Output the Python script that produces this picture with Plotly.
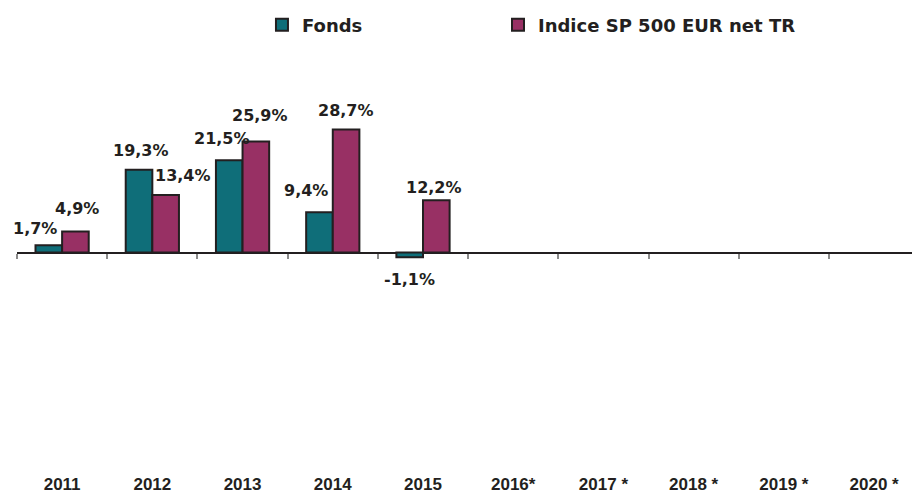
import plotly.graph_objects as go

categories = ["2011", "2012", "2013", "2014", "2015", "2016*", "2017 *", "2018 *", "2019 *", "2020 *"]
fonds = [1.7, 19.3, 21.5, 9.4, -1.1, None, None, None, None, None]
indice = [4.9, 13.4, 25.9, 28.7, 12.2, None, None, None, None, None]
series_names = ["Fonds", "Indice SP 500 EUR net TR"]

# label offsets in pixels (style only)
fonds_xshift = [-27, -11, -21, -27, -14]
fonds_yshift = [17, 19, 22, 22, -22]
indice_xshift = [15, 31, 17, 13, 11]
indice_yshift = [23, 20, 26, 19, 13]

TEAL = "#0F6E79"
PURPLE = "#983064"
EDGE = "#231F20"
FONT = "DejaVu Sans, Verdana, sans-serif"
TICKFONT = "Liberation Sans, Arial, sans-serif"

YMIN, YMAX = -50, 40

fig = go.Figure()
fig.add_trace(go.Bar(x=categories, y=fonds, name=series_names[0], legend="legend",
                     marker=dict(color=TEAL, line=dict(color=EDGE, width=2))))
fig.add_trace(go.Bar(x=categories, y=indice, name=series_names[1], legend="legend2",
                     marker=dict(color=PURPLE, line=dict(color=EDGE, width=2))))
# invisible helper trace for the tick axis at zero
fig.add_trace(go.Scatter(x=categories, y=[None] * len(categories), xaxis="x2",
                         showlegend=False, hoverinfo="skip", mode="lines"))

def fmt(v):
    return f"{v:.1f}".replace(".", ",") + "%"

annotations = []
for vals, xs, ys in [(fonds, fonds_xshift, fonds_yshift), (indice, indice_xshift, indice_yshift)]:
    k = 0
    for i, v in enumerate(vals):
        if v is None:
            continue
        annotations.append(dict(x=i, y=v, xref="x", yref="y", text="<b>" + fmt(v) + "</b>",
                                showarrow=False, xshift=xs[k], yshift=ys[k],
                                xanchor="center", yanchor="middle",
                                font=dict(family=FONT, size=16, color="#231F20")))
        k += 1

legend_font = dict(family=FONT, size=18, color="#231F20", weight="bold")
xrange = [-0.5, 9.42]
fig.update_layout(
    width=912, height=495,
    margin=dict(l=17, r=0, t=81, b=28, autoexpand=False),
    paper_bgcolor="white", plot_bgcolor="white",
    barmode="group", bargap=0.41, bargroupgap=0,
    font=dict(family=FONT, color="#231F20"),
    showlegend=True,
    legend=dict(orientation="h", x=0.2737, xanchor="left", y=1.145, yanchor="middle",
                font=legend_font, bgcolor="rgba(0,0,0,0)"),
    legend2=dict(orientation="h", x=0.5374, xanchor="left", y=1.145, yanchor="middle",
                 font=legend_font, bgcolor="rgba(0,0,0,0)"),
    xaxis=dict(type="category", categoryorder="array", categoryarray=categories,
               range=xrange, showgrid=False, showline=False, ticks="",
               tickfont=dict(family=TICKFONT, size=17, color="#231F20", weight="bold"),
               ticklabelstandoff=5),
    xaxis2=dict(type="category", categoryorder="array", categoryarray=categories,
                overlaying="x", anchor="free", position=(0 - YMIN) / (YMAX - YMIN),
                side="bottom", range=xrange, showgrid=False, showline=False,
                ticks="outside", tickson="boundaries", ticklen=5, tickwidth=1.5,
                tickcolor="#8A8A8A", showticklabels=False),
    yaxis=dict(range=[YMIN, YMAX], showgrid=False, showticklabels=False, ticks="",
               zeroline=True, zerolinecolor="#231F20", zerolinewidth=1.5, showline=False),
    annotations=annotations,
)

fig.write_html("out.html", config={"displayModeBar": False},
               post_script="document.body.style.margin='0';")
